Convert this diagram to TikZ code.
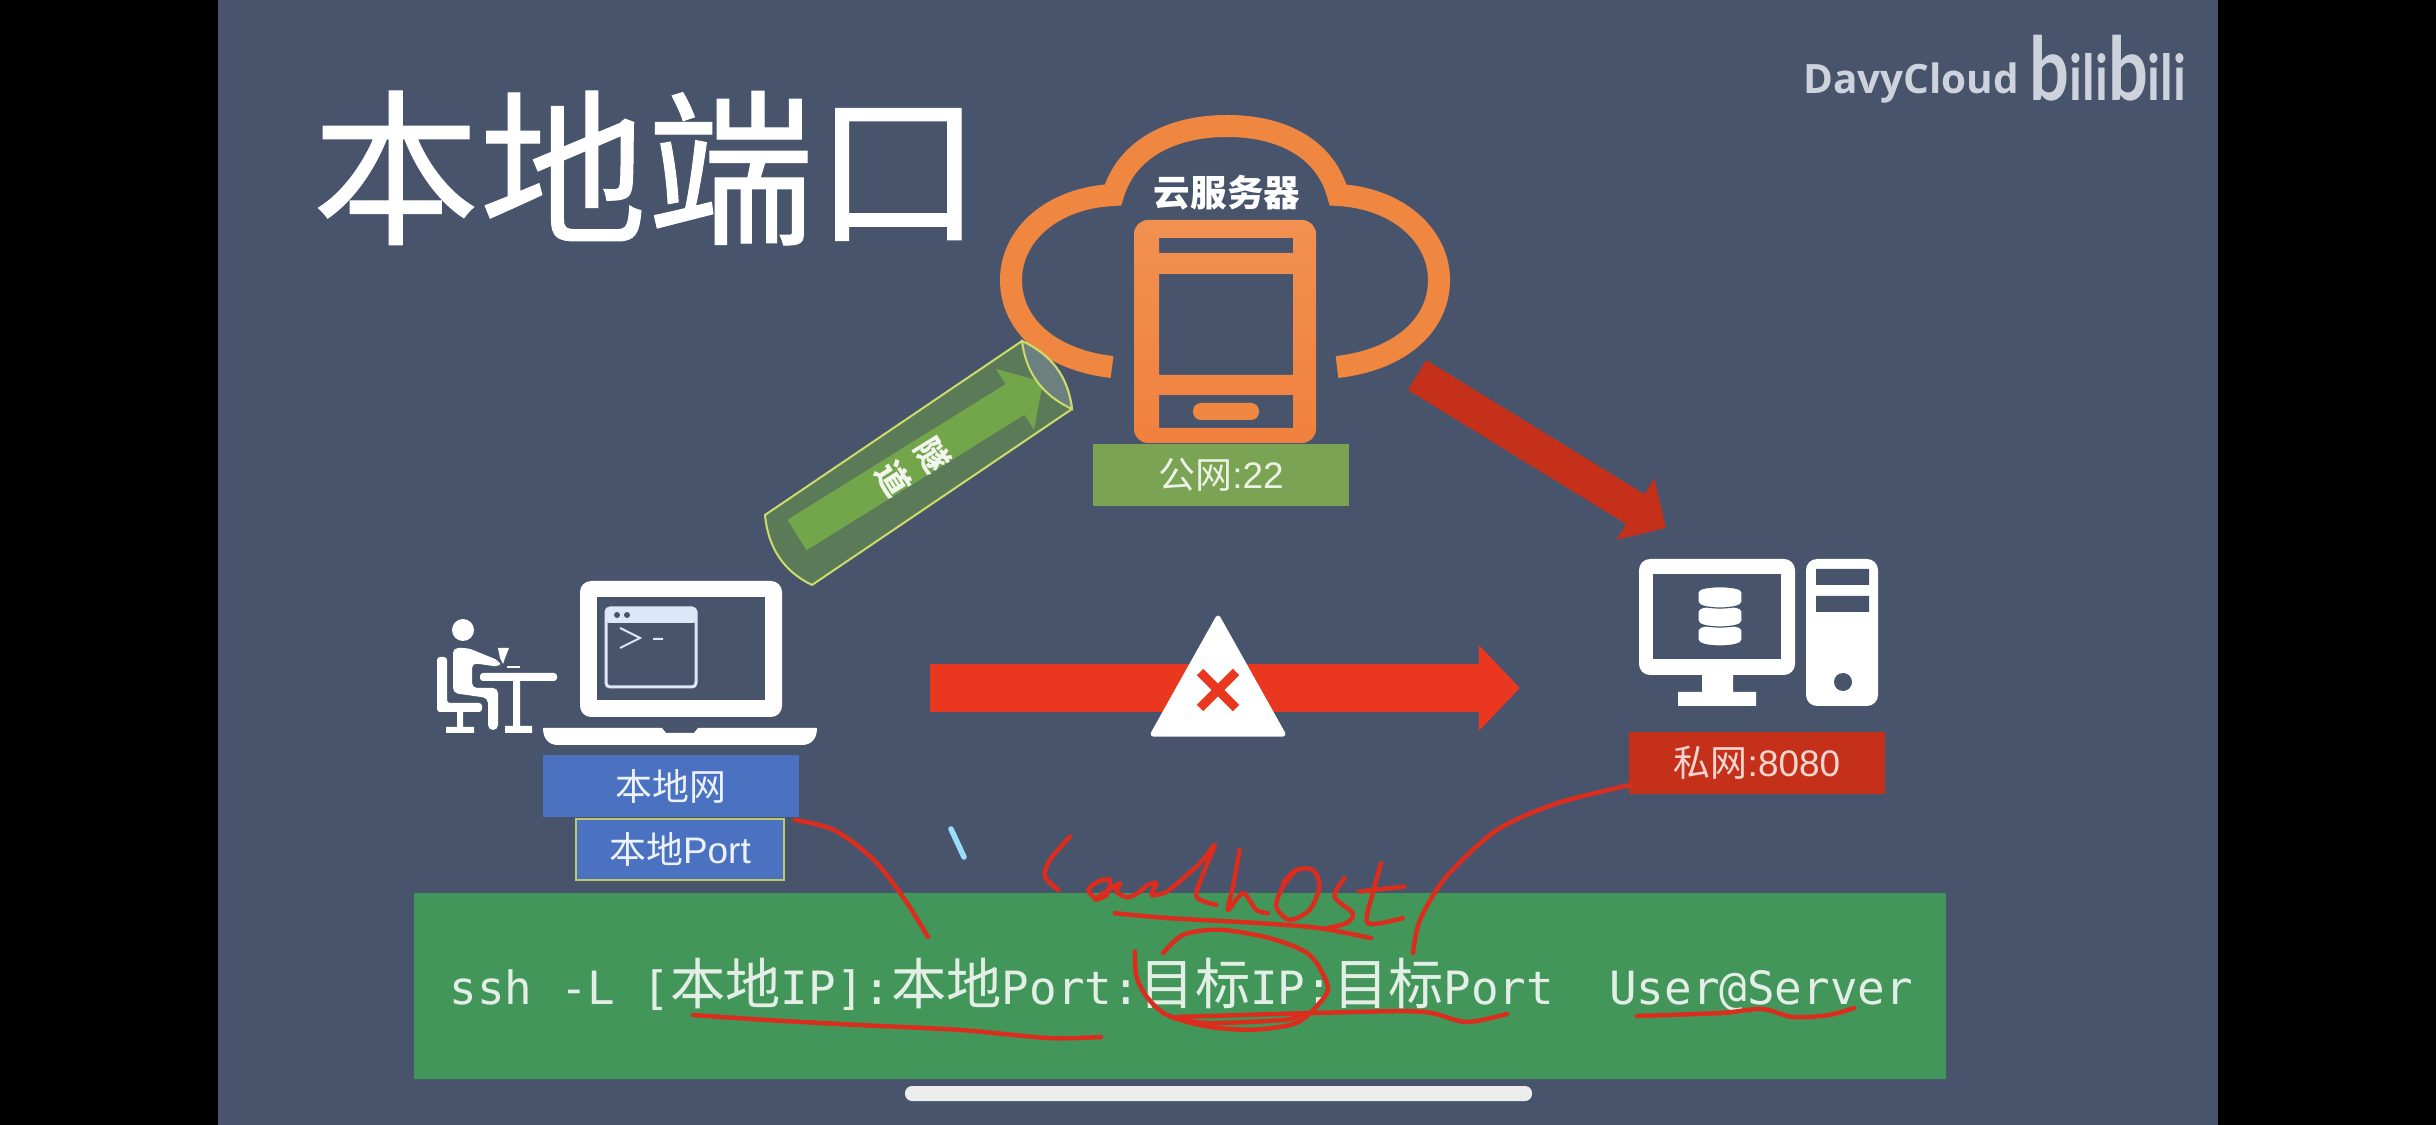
\documentclass[tikz,border=0pt]{standalone}
\usepackage{fontspec}
\setmainfont{Liberation Sans}
\newfontfamily\cjkfont{Noto Sans CJK SC}
\newfontfamily\titlefont[FakeBold=0.6]{Noto Sans CJK SC}
\newfontfamily\termfont{DejaVu Sans Mono}
\newfontfamily\logofont{Open Sans}
\newfontfamily\bilifont{Lato}
\usetikzlibrary{arrows.meta,positioning}
\definecolor{slate}{RGB}{72,84,108}
\definecolor{cloudorange}{RGB}{240,135,65}
\definecolor{portgreen}{RGB}{122,163,84}
\definecolor{bandgreen}{RGB}{67,150,90}
\definecolor{netblue}{RGB}{74,114,192}
\definecolor{darkred}{RGB}{197,48,26}
\definecolor{brightred}{RGB}{234,56,32}
\definecolor{inkred}{RGB}{218,45,30}
\definecolor{tubegreen}{RGB}{90,122,88}
\definecolor{tubeface}{RGB}{108,128,128}
\definecolor{tubeline}{RGB}{205,220,105}
\definecolor{arrowgreen}{RGB}{115,165,75}
\definecolor{logogrey}{RGB}{205,210,220}
\definecolor{termblue}{RGB}{220,232,250}
\newcommand{\zh}[1]{{\cjkfont #1}}
\tikzset{
    %boxes under the icons
    netbox/.style={
           minimum width=2.56cm,
           minimum height=0.61cm,
           inner sep=0pt,
           font=\fontsize{10.5pt}{12pt}\selectfont},
    %block arrows
    blockarrow/.style={
           -{Triangle[length=0.40cm,width=0.80cm]},
           line width=0.40cm},
    %handwriting
    ink/.style={
           draw=inkred,
           line width=0.045cm,
           line cap=round,
           line join=round},
}

\begin{document}
\begin{tikzpicture}[x=0.01cm,y=-0.01cm]
 %page
 \fill[black] (0,0) rectangle (2436,1125);
 \useasboundingbox (0,0) rectangle (2436,1125);
 \fill[slate] (218,0) rectangle (2218,1125);

 %title and logo
 \node[text=white,inner sep=0pt,font=\titlefont\fontsize{47.6pt}{50pt}\selectfont] (title) at (647,168) {本地端口};
 \node[text=logogrey,inner sep=0pt,font=\logofont\bfseries\fontsize{11.5pt}{14pt}\selectfont] (author) at (1911,83) {DavyCloud};
 \node[text=logogrey,inner sep=0pt,xscale=0.8,anchor=base,font=\bilifont\bfseries\fontsize{18pt}{28pt}\selectfont] (logo) at (2108,101) {{\fontsize{25pt}{28pt}\selectfont b}ili{\fontsize{25pt}{28pt}\selectfont b}ili};

 %cloud and phone
 \draw[cloudorange,line width=0.22cm,miter limit=10] (1112,367) .. controls (1050,360) and (1011,325) .. (1011,280)
   .. controls (1011,235) and (1052,198) .. (1113,195) .. controls (1126,150) and (1170,126) .. (1227,126)
   .. controls (1284,126) and (1326,150) .. (1338,195) .. controls (1397,198) and (1439,235) .. (1439,280)
   .. controls (1439,325) and (1400,360) .. (1337,367);
 \shade[top color=cloudorange!92!white,bottom color=cloudorange!95!red,even odd rule]
   [rounded corners=0.14cm] (1134,220) rectangle (1316,443)
   [sharp corners] (1159,238) rectangle (1293,253) (1159,274) rectangle (1293,375) (1159,395) rectangle (1293,428);
 \fill[cloudorange,rounded corners=0.08cm] (1193,403) rectangle (1259,420);
 \node[text=white,inner sep=0pt,font=\cjkfont\bfseries\fontsize{10.4pt}{12pt}\selectfont] (cloudname) at (1227,193) {云服务器};
 \node[netbox,fill=portgreen,text=white!85!portgreen] (public) at (1221,475) {\zh{公网}:22};

 %tunnel
 \coordinate (tubeA) at (1022,341);
 \coordinate (tubeB) at (1072,409);
 \coordinate (tubeC) at (765,515);
 \coordinate (tubeD) at (812,585);
 \coordinate (tunneltail) at (797,535);
 \coordinate (tunneltip) at (1043,382);
 \filldraw[fill=tubegreen,draw=tubeline,line width=0.02cm] (tubeA) .. controls (1052,355) and (1068,377) .. (tubeB)
   -- (tubeD) .. controls (783,571) and (768,547) .. (tubeC) -- cycle;
 \draw[arrowgreen,blockarrow,line width=0.36cm,-{Triangle[length=0.33cm,width=0.70cm]}] (tunneltail) -- (tunneltip);
 \filldraw[fill=tubeface,draw=tubeline,line width=0.02cm] (tubeA) .. controls (1052,355) and (1068,377) .. (tubeB)
   .. controls (1042,395) and (1026,373) .. (tubeA) -- cycle;
 \node[text=white!90!arrowgreen,inner sep=0pt,rotate=-58,align=center,font=\cjkfont\bfseries\fontsize{9.4pt}{13pt}\selectfont] (tunnel) at (913,467) {隧\\道};

 %red arrow to the private host
 \coordinate (redtail) at (1417,375);
 \coordinate (redtip) at (1666,528);
 \draw[darkred,blockarrow,line width=0.35cm,-{Triangle[length=0.36cm,width=0.70cm]}] (redtail) -- (redtip);

 %blocked arrow
 \coordinate (blocktail) at (930,688);
 \coordinate (blocktip) at (1520,688);
 \draw[brightred,blockarrow,line width=0.47cm,-{Triangle[length=0.41cm,width=0.83cm]}] (blocktail) -- (blocktip);
 \filldraw[white,line width=0.05cm,line join=round] (1218,618) -- (1283,734) -- (1153,734) -- cycle;
 \draw[brightred,line width=0.09cm] (1200,672) -- (1236,708) (1236,672) -- (1200,708);

 %user
 \fill[white] (463,630) circle (11);
 \fill[white,rounded corners=0.05cm] (453,648) -- (468,648) -- (500,661) -- (500,667) -- (472,663) -- (472,688)
   -- (498,688) -- (498,730) -- (488,730) -- (488,698) -- (453,693) -- cycle;
 \fill[white] (498,648) -- (509,648) -- (505,658) -- (503,664) -- (500,658) -- cycle;
 \fill[white] (507,666) rectangle (520,668);
 \fill[white,rounded corners=0.03cm] (480,673) rectangle (557,681);
 \fill[white] (513,681) rectangle (520,726) (505,726) rectangle (532,733);
 \fill[white,rounded corners=0.03cm] (437,657) -- (447,657) -- (447,703) -- (482,703) -- (482,712) -- (437,712) -- cycle;
 \fill[white] (457,712) rectangle (463,727) (446,727) rectangle (474,733);

 %laptop
 \fill[white,rounded corners=0.11cm] (580,581) rectangle (782,717);
 \fill[slate] (597,597) rectangle (765,700);
 \draw[termblue,line width=0.03cm,rounded corners=0.04cm] (606,608) rectangle (696,687);
 \fill[termblue,rounded corners=0.03cm] (606,608) rectangle (696,623);
 \fill[slate] (617,615) circle (3) (627,615) circle (3);
 \draw[termblue,line width=0.02cm] (620,628) -- (640,638) -- (620,648) (653,639) -- (663,639);
 \fill[white] (543,728) -- (662,728) -- (666,733) -- (694,733) -- (698,728) -- (817,728)
   .. controls (817,740) and (810,745) .. (802,745) -- (558,745) .. controls (550,745) and (543,740) .. (543,728) -- cycle;
 \node[netbox,fill=netblue,text=white!90!netblue] (localnet) at (671,786) {\zh{本地网}};
 \node[netbox,fill=netblue,text=white!90!netblue,draw=tubeline!80!gray,line width=0.02cm,minimum width=2.07cm,below=0.01cm of localnet,xshift=0.09cm] (localport) {\zh{本地}Port};

 %private host
 \fill[white,rounded corners=0.11cm] (1639,559) rectangle (1795,675);
 \fill[slate] (1653,574) rectangle (1781,659);
 \fill[white] (1702,675) rectangle (1733,692) (1678,692) rectangle (1756,706);
 \fill[white,rounded corners=0.11cm] (1806,559) rectangle (1878,706);
 \fill[slate] (1816,569) rectangle (1869,585) (1816,596) rectangle (1869,612) (1843,682) circle (9);
 \foreach \discy in {625,606,587}{
   \filldraw[fill=white,draw=slate,line width=0.012cm] (1698,\discy+5) -- (1698,\discy+15) .. controls (1698,\discy+23) and (1742,\discy+23) .. (1742,\discy+15) -- (1742,\discy+5)
     .. controls (1742,\discy-2) and (1698,\discy-2) .. (1698,\discy+5) -- cycle;
 }
 \node[netbox,fill=darkred,text=white!80!darkred] (private) at (1757,763) {\zh{私网}:8080};

 %command
 \node[fill=bandgreen,minimum width=15.32cm,minimum height=1.85cm,inner sep=0pt] (band) at (1180,986) {};
 \node[anchor=base west,inner sep=0pt,text=white!85!bandgreen,font=\termfont\fontsize{13.04pt}{15pt}\selectfont] (command) at (449,1004)
   {ssh -L [{\cjkfont\fontsize{15.7pt}{15pt}\selectfont 本地}IP]:{\cjkfont\fontsize{15.7pt}{15pt}\selectfont 本地}Port:{\cjkfont\fontsize{15.7pt}{15pt}\selectfont 目标}IP:{\cjkfont\fontsize{15.7pt}{15pt}\selectfont 目标}Port\ \ User@Server};
 \fill[white!93!black,rounded corners=0.07cm] (905,1086) rectangle (1532,1101);

 %handwriting
 \draw[ink] plot[smooth] coordinates {(795,820) (834,830) (874,860) (905,900) (928,937)};
 \draw[ink] plot[smooth] coordinates {(693,1015) (767,1020) (859,1025) (961,1030) (1048,1038) (1101,1037)};
 \draw[ink] plot[smooth] coordinates {(1413,953) (1420,920) (1446,877) (1497,830) (1558,803) (1630,785)};
 \draw[ink] plot[smooth] coordinates {(1177,1017) (1353,1012) (1425,1012) (1466,1022) (1507,1014)};
 \draw[ink] plot[smooth] coordinates {(1637,1016) (1721,1013) (1762,1009) (1793,1017) (1829,1015) (1854,1008)};
 \draw[line width=0.055cm,color=cyan!40!white,line cap=round] (951,829) -- (964,857);
 \begin{scope}[shift={(1020,820)},x=0.00333cm,y=-0.00333cm]
  \draw[ink] plot[smooth] coordinates {(150,50) (90,120) (75,170) (115,210)};
  \draw[ink] plot[smooth] coordinates {(225,235) (205,210) (235,185) (270,180) (260,225) (225,238) (300,190) (290,215) (320,232) (350,222) (385,195) (410,190) (395,225) (430,220) (455,205) (540,130) (585,75) (555,150) (530,230) (590,255)};
  \draw[ink] plot[smooth] coordinates {(660,90) (640,200) (625,270) (670,220) (710,270) (745,280)};
  \draw[ink] plot[smooth] coordinates {(830,150) (790,200) (770,260) (810,300) (870,270) (900,200) (880,150) (830,150) (790,190)};
  \draw[ink] plot[smooth] coordinates {(975,175) (945,230) (1000,280) (980,310) (920,325)};
  \draw[ink] plot[smooth] coordinates {(1085,130) (1060,220) (1045,310) (1150,295)};
  \draw[ink] (1020,215) -- (1155,200);
  \draw[ink] plot[smooth] coordinates {(285,280) (450,295) (720,310) (900,325) (1055,355)};
  \draw[ink] plot[smooth] coordinates {(430,400) (490,345) (600,330) (750,355) (870,405) (925,500) (900,550) (830,610) (700,630) (560,620) (440,585) (380,530) (350,470) (345,395)};
  \draw[ink] plot[smooth] coordinates {(450,590) (560,610) (800,600) (850,580)};
 \end{scope}
\end{tikzpicture}
\end{document}
